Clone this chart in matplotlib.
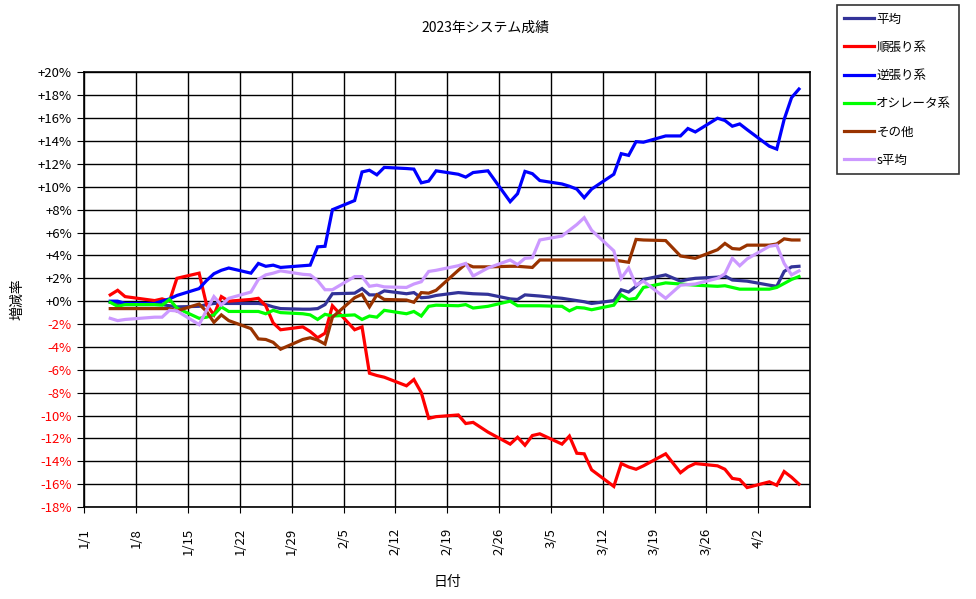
import datetime as dt
import matplotlib
matplotlib.use("Agg")
import matplotlib.pyplot as plt
import matplotlib.dates as mdates
from matplotlib.ticker import FixedLocator, FuncFormatter

plt.rcParams['font.family'] = ['Noto Sans CJK JP', 'DejaVu Sans']

# trading days (2023)
days = ["1/4", "1/5", "1/6", "1/10", "1/11", "1/12", "1/13",
        "1/16", "1/17", "1/18", "1/19", "1/20", "1/23", "1/24", "1/25", "1/26", "1/27",
        "1/30", "1/31", "2/1", "2/2", "2/3", "2/6", "2/7", "2/8", "2/9", "2/10",
        "2/13", "2/14", "2/15", "2/16", "2/17", "2/20", "2/21", "2/22", "2/24",
        "2/27", "2/28", "3/1", "3/2", "3/3", "3/6", "3/7", "3/8", "3/9", "3/10",
        "3/13", "3/14", "3/15", "3/16", "3/17", "3/20", "3/22", "3/23", "3/24",
        "3/27", "3/28", "3/29", "3/30", "3/31", "4/3", "4/4", "4/5", "4/6", "4/7"]

heikin = [-0.1, -0.2, -0.3, -0.3, -0.3, -0.4, -0.5,
          -0.45, -0.3, -0.2, -0.2, -0.2, -0.2, -0.2, -0.3, -0.5, -0.65,
          -0.7, -0.7, -0.65, -0.3, 0.65, 0.7, 1.1, 0.55, 0.55, 0.9,
          0.65, 0.75, 0.3, 0.35, 0.5, 0.75, 0.7, 0.65, 0.6,
          0.2, 0.15, 0.55, 0.5, 0.45, 0.25, 0.15, 0.05, -0.05, -0.2,
          0.05, 1.0, 0.8, 1.3, 1.9, 2.3, 1.75, 1.9, 2.0,
          2.1, 2.2, 1.85, 1.8, 1.75, 1.4, 1.3, 2.6, 3.0, 3.05]

junbari = [0.55, 0.95, 0.4, 0.05, 0.2, 0.0, 2.0,
           2.45, -0.3, -1.2, 0.4, 0.0, 0.15, 0.25, -0.4, -1.9, -2.5,
           -2.25, -2.65, -3.2, -2.8, -0.4, -2.5, -2.25, -6.3, -6.5, -6.65,
           -7.4, -6.85, -8.0, -10.25, -10.1, -9.95, -10.7, -10.6, -11.45,
           -12.5, -11.9, -12.6, -11.75, -11.6, -12.5, -11.8, -13.3, -13.35, -14.75,
           -16.2, -14.2, -14.5, -14.7, -14.4, -13.35, -15.0, -14.5, -14.2,
           -14.4, -14.7, -15.5, -15.6, -16.3, -15.8, -16.1, -14.9, -15.4, -16.0]

gyakubari = [0.0, 0.0, -0.2, -0.2, 0.0, 0.2, 0.5,
             1.1, 1.8, 2.4, 2.7, 2.9, 2.45, 3.3, 3.05, 3.15, 2.95,
             3.1, 3.15, 4.75, 4.8, 8.0, 8.8, 11.3, 11.45, 11.05, 11.7,
             11.6, 11.55, 10.35, 10.5, 11.4, 11.1, 10.85, 11.25, 11.4,
             8.7, 9.4, 11.35, 11.15, 10.55, 10.25, 10.05, 9.8, 9.05, 9.8,
             11.1, 12.9, 12.75, 13.95, 13.9, 14.45, 14.45, 15.1, 14.8,
             16.0, 15.8, 15.3, 15.5, 15.0, 13.55, 13.3, 15.9, 17.8, 18.55]

oscillator = [-0.1, -0.45, -0.3, -0.3, -0.35, 0.15, -0.6,
              -1.5, -1.4, -1.2, -0.5, -0.9, -0.9, -0.9, -1.1, -0.8, -1.0,
              -1.1, -1.2, -1.6, -1.15, -1.3, -1.2, -1.6, -1.3, -1.4, -0.8,
              -1.1, -0.9, -1.3, -0.45, -0.35, -0.4, -0.3, -0.6, -0.45,
              0.0, -0.4, -0.4, -0.4, -0.4, -0.45, -0.85, -0.55, -0.6, -0.75,
              -0.35, 0.55, 0.15, 0.25, 1.2, 1.6, 1.5, 1.45, 1.4,
              1.3, 1.35, 1.2, 1.05, 1.05, 1.05, 1.2, 1.55, 1.9, 2.15]

sonota = [-0.65, -0.65, -0.65, -0.65, -0.65, -0.65, -0.85,
          -0.25, -0.9, -1.85, -1.2, -1.7, -2.4, -3.3, -3.35, -3.6, -4.2,
          -3.35, -3.2, -3.4, -3.75, -1.4, 0.3, 0.6, -0.5, 0.55, 0.15,
          0.1, -0.1, 0.75, 0.7, 0.95, 2.7, 3.25, 3.0, 3.0,
          3.05, 3.05, 3.0, 2.95, 3.6, 3.6, 3.6, 3.6, 3.6, 3.6,
          3.6, 3.5, 3.4, 5.4, 5.35, 5.3, 3.95, 3.85, 3.75,
          4.5, 5.05, 4.6, 4.55, 4.9, 4.9, 5.0, 5.45, 5.35, 5.35]

s_heikin = [-1.5, -1.7, -1.6, -1.4, -1.4, -0.8, -0.85,
            -2.05, -0.8, 0.4, -0.35, 0.25, 0.8, 1.9, 2.3, 2.45, 2.65,
            2.35, 2.3, 1.8, 1.0, 1.0, 2.15, 2.15, 1.3, 1.4, 1.25,
            1.2, 1.5, 1.7, 2.6, 2.7, 3.1, 3.3, 2.2, 2.9,
            3.6, 3.2, 3.75, 3.8, 5.35, 5.7, 6.2, 6.7, 7.3, 6.2,
            4.4, 2.0, 2.9, 1.4, 1.75, 0.25, 1.4, 1.45, 1.5,
            2.0, 2.4, 3.75, 3.1, 3.7, 4.8, 4.9, 3.3, 2.3, 2.65]

series = [("平均", heikin, "#333399"),
          ("順張り系", junbari, "#FF0000"),
          ("逆張り系", gyakubari, "#0000FF"),
          ("オシレータ系", oscillator, "#00FF00"),
          ("その他", sonota, "#993300"),
          ("s平均", s_heikin, "#CC99FF")]

x = [dt.datetime(2023, int(s.split("/")[0]), int(s.split("/")[1]), 12) for s in days]

fig = plt.figure(figsize=(9.76, 5.99), dpi=100)
ax = fig.add_axes([0.0864, 0.1536, 0.7436, 0.7254])

for name, vals, col in series:
    ax.plot(x, vals, color=col, lw=2.3, label=name, solid_joinstyle="miter")

start = dt.datetime(2023, 1, 1)
ax.set_xlim(start, dt.datetime(2023, 4, 9))
ax.set_ylim(-18, 20)
ticks = [start + dt.timedelta(days=7 * k) for k in range(14)]
ax.xaxis.set_major_locator(FixedLocator(mdates.date2num(ticks)))
ax.xaxis.set_major_formatter(FuncFormatter(
    lambda v, p: f"{mdates.num2date(v).month}/{mdates.num2date(v).day}"))
ax.set_yticks(range(-18, 21, 2))
ax.set_yticklabels([f"{v:+d}%" for v in range(-18, 21, 2)])
for lab, v in zip(ax.get_yticklabels(), range(-18, 21, 2)):
    if v < 0:
        lab.set_color("red")

ax.grid(True, color="black", lw=1)
ax.set_axisbelow(True)
for sp in ax.spines.values():
    sp.set_linewidth(1.2)
ax.tick_params(axis="y", direction="out", length=5, labelsize=9.5, pad=4)
ax.tick_params(axis="x", direction="out", length=4, labelsize=9.5, pad=11,
               labelrotation=90)

fig.text(0.497, 0.953, "2023年システム成績", ha="center", va="center", fontsize=10)
ax.set_xlabel("日付", fontsize=10, labelpad=14)
fig.text(0.018, 0.5, "増減率", rotation=90, ha="center", va="center", fontsize=10)

leg = fig.legend(loc="upper left", bbox_to_anchor=(0.8575, 0.9916), fontsize=9,
                 frameon=True, fancybox=False, edgecolor="black",
                 handlelength=2.4, handletextpad=0.15, labelspacing=1.22,
                 borderpad=0.6, borderaxespad=0)
leg.get_frame().set_linewidth(1.2)

fig.savefig("out.png", dpi=100)
